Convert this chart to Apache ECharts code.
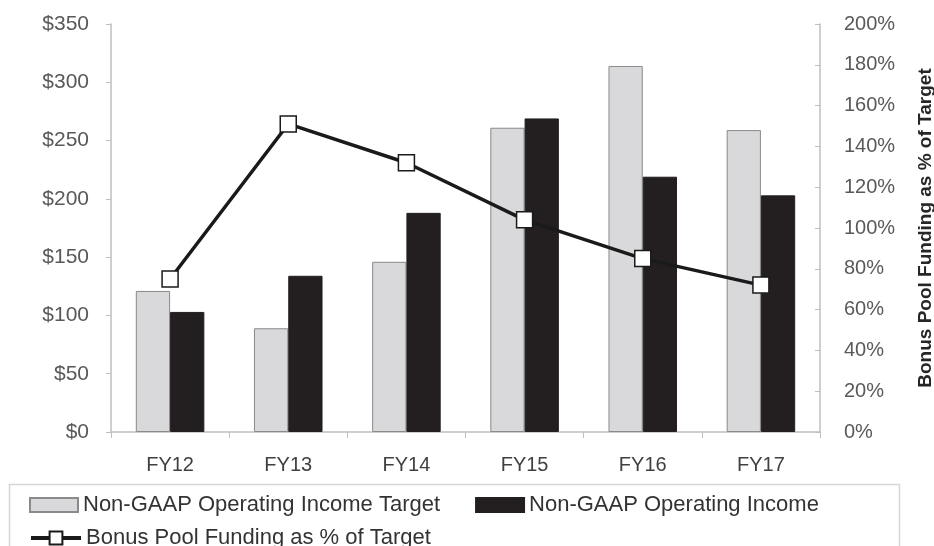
<html>
<head>
    <meta charset="utf-8">
    <title>ECharts</title>
    <script src="https://cdn.jsdelivr.net/npm/echarts@6/dist/echarts.min.js"></script>
</head>
<body style="margin:0;background:#fff;">
    <div id="main" style="width: 934px;height:546px;"></div>
    <script type="text/javascript">
        var years = ['FY12', 'FY13', 'FY14', 'FY15', 'FY16', 'FY17'];
        var incomeTarget = [121, 89, 146, 261, 314, 259];
        var incomeActual = [103, 134, 188, 269, 219, 203];
        var bonusPct = [75, 151, 132, 104, 85, 72];

        var font = "'Liberation Sans', Arial, sans-serif";
        var axisGray = '#bfbfbf';
        var legendText = { fontFamily: font, fontSize: 22, color: '#333' };

        var myChart = echarts.init(document.getElementById('main'));

        var option = {
            animation: false,
            textStyle: { fontFamily: font },
            grid: { left: 111, right: 114, top: 24, bottom: 114, outerBoundsMode: 'none' },
            graphic: [{
                type: 'rect',
                shape: { x: 9.5, y: 484.5, width: 890, height: 70 },
                style: { fill: 'none', stroke: '#d6d6d6', lineWidth: 1.5 }
            }],
            legend: [{
                left: 24, top: 489,
                itemGap: 35, itemWidth: 48, itemHeight: 14,
                textStyle: legendText,
                data: [
                    { name: 'Non-GAAP Operating Income Target', icon: 'rect' },
                    { name: 'Non-GAAP Operating Income', icon: 'rect' }
                ]
            }, {
                left: 24, top: 522,
                itemWidth: 50, itemHeight: 16,
                textStyle: legendText,
                lineStyle: { width: 4 },
                data: ['Bonus Pool Funding as % of Target']
            }],
            xAxis: {
                type: 'category',
                data: years,
                axisLine: { lineStyle: { color: axisGray, width: 1.5 } },
                axisTick: { show: true, length: 6, lineStyle: { color: axisGray } },
                axisLabel: { fontSize: 20, color: '#404040', margin: 23 }
            },
            yAxis: [{
                type: 'value',
                min: 0, max: 350, interval: 50,
                splitLine: { show: false },
                axisLine: { show: true, lineStyle: { color: axisGray, width: 1.5 } },
                axisTick: { show: true, length: 5, lineStyle: { color: axisGray } },
                axisLabel: { fontSize: 21, color: '#595959', margin: 22, formatter: '${value}' }
            }, {
                type: 'value',
                min: 0, max: 200, interval: 20,
                splitLine: { show: false },
                axisLine: { show: true, lineStyle: { color: axisGray, width: 1.5 } },
                axisTick: { show: true, inside: true, length: 5, lineStyle: { color: axisGray } },
                axisLabel: { fontSize: 20, color: '#595959', margin: 24, formatter: '{value}%' },
                name: 'Bonus Pool Funding as % of Target',
                nameLocation: 'middle',
                nameRotate: 90,
                nameGap: 96,
                nameTextStyle: { fontSize: 19, fontWeight: 'bold', color: '#262626', fontFamily: font }
            }],
            series: [{
                name: 'Non-GAAP Operating Income Target',
                type: 'bar',
                data: incomeTarget,
                barGap: '0%',
                barCategoryGap: '42%',
                itemStyle: { color: '#d9d9dc', borderColor: '#8a8a8a', borderWidth: 1 }
            }, {
                name: 'Non-GAAP Operating Income',
                type: 'bar',
                data: incomeActual,
                itemStyle: { color: '#231f20', borderColor: '#231f20', borderWidth: 1 }
            }, {
                name: 'Bonus Pool Funding as % of Target',
                type: 'line',
                yAxisIndex: 1,
                data: bonusPct,
                symbol: 'rect',
                symbolSize: 16,
                lineStyle: { color: '#1a1a1a', width: 3.5 },
                itemStyle: { color: '#fff', borderColor: '#1a1a1a', borderWidth: 1.5 },
                z: 5
            }]
        };

        myChart.setOption(option);
    </script>
</body>
</html>
